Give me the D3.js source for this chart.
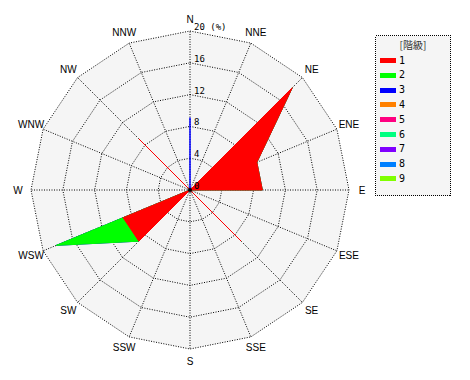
<!DOCTYPE html>
<html>
<head>
<meta charset="utf-8">
<script src="https://cdn.jsdelivr.net/npm/d3@7"></script>
<style>
  body { margin: 0; background: #fff; }
</style>
</head>
<body>
<div id="chart-area"></div>
<script>
// directions (clockwise from north)
const directions = ["N", "NNE", "NE", "ENE", "E", "ESE", "SE", "SSE", "S", "SSW", "SW", "WSW", "W", "WNW", "NW", "NNW"]

// frequency (%) per class, one value per direction
const class1 = [0, 0, 18.2, 9.1, 9.1, 0, 9.1, 0, 0, 0, 9.1, 9.1, 0, 0, 9.1, 0]
const class2 = [0, 0, 0, 0, 0, 0, 0, 0, 0, 0, 0, 9.1, 0, 0, 0, 0]
const class3 = [9.1, 0, 0, 0, 0, 0, 0, 0, 0, 0, 0, 0, 0, 0, 0, 0]
const class4 = [0, 0, 0, 0, 0, 0, 0, 0, 0, 0, 0, 0, 0, 0, 0, 0]
const class5 = [0, 0, 0, 0, 0, 0, 0, 0, 0, 0, 0, 0, 0, 0, 0, 0]
const class6 = [0, 0, 0, 0, 0, 0, 0, 0, 0, 0, 0, 0, 0, 0, 0, 0]
const class7 = [0, 0, 0, 0, 0, 0, 0, 0, 0, 0, 0, 0, 0, 0, 0, 0]
const class8 = [0, 0, 0, 0, 0, 0, 0, 0, 0, 0, 0, 0, 0, 0, 0, 0]
const class9 = [0, 0, 0, 0, 0, 0, 0, 0, 0, 0, 0, 0, 0, 0, 0, 0]

const classLabels = ["1", "2", "3", "4", "5", "6", "7", "8", "9"]
const classColors = ["#ff0000", "#00ff00", "#0000ff", "#ff8000", "#ff0080", "#00ff80", "#8000ff", "#0080ff", "#80ff00"]
const ringTicks = [0, 4, 8, 12, 16, 20]

const series = [class1, class2, class3, class4, class5, class6, class7, class8, class9]

const WIDTH = 470
const HEIGHT = 380
const CX = 190
const CY = 190

const svg = d3.select("#chart-area").append("svg")
  .attr("width", WIDTH)
  .attr("height", HEIGHT)

// radial scale
const r = d3.scaleLinear().domain([0, 20]).range([0, 159])
const angle = d3.scaleLinear().domain([0, directions.length]).range([0, 2 * Math.PI])

const px = (i, v) => CX + r(v) * Math.sin(angle(i))
const py = (i, v) => CY - r(v) * Math.cos(angle(i))

const g = svg.append("g")

// background polygon
const outer = directions.map((d, i) => [px(i, 20), py(i, 20)])
g.append("polygon")
  .attr("points", outer.map(p => p.join(",")).join(" "))
  .attr("fill", "#f5f5f5")

// rings
ringTicks.filter(t => t > 0).forEach(t => {
  g.append("polygon")
    .attr("points", directions.map((d, i) => [px(i, t), py(i, t)].join(",")).join(" "))
    .attr("fill", "none")
    .attr("stroke", "#000")
    .attr("stroke-width", 1)
    .attr("stroke-dasharray", "1,1.5")
})

// spokes
g.selectAll(".spoke")
  .data(directions)
  .enter().append("line")
  .attr("class", "spoke")
  .attr("x1", CX)
  .attr("y1", CY)
  .attr("x2", (d, i) => px(i, 20))
  .attr("y2", (d, i) => py(i, 20))
  .attr("stroke", "#000")
  .attr("stroke-width", 1)
  .attr("stroke-dasharray", "1,1.5")

// stacked values
const cumulative = []
series.forEach((s, k) => {
  cumulative.push(s.map((v, i) => v + (k > 0 ? cumulative[k - 1][i] : 0)))
})

// draw outer classes first so the inner ones stay on top
for (let k = series.length - 1; k >= 0; k--) {
  if (d3.max(series[k]) === 0) continue
  const pts = cumulative[k].map((v, i) => [px(i, v), py(i, v)])
  g.append("polygon")
    .attr("points", pts.map(p => p.join(",")).join(" "))
    .attr("fill", classColors[k])
    .attr("stroke", classColors[k])
    .attr("stroke-width", 1)
}

// center dot
g.append("circle")
  .attr("cx", CX)
  .attr("cy", CY)
  .attr("r", 2)
  .attr("fill", "#000")

// ring labels
g.selectAll(".ring-label")
  .data(ringTicks)
  .enter().append("text")
  .attr("class", "ring-label")
  .attr("x", CX + 4)
  .attr("y", d => CY - r(d) - 1)
  .attr("font-family", "'DejaVu Sans Mono', monospace")
  .attr("font-size", "9px")
  .attr("fill", "#000")
  .text(d => d === 20 ? "20 (%)" : d)

// direction labels
g.selectAll(".dir-label")
  .data(directions)
  .enter().append("text")
  .attr("class", "dir-label")
  .attr("x", (d, i) => CX + 172 * Math.sin(angle(i)))
  .attr("y", (d, i) => CY - 171 * Math.cos(angle(i)))
  .attr("dy", "0.35em")
  .attr("text-anchor", "middle")
  .attr("font-family", "'Liberation Sans', sans-serif")
  .attr("font-size", "10px")
  .attr("fill", "#000")
  .text(d => d)

// legend
const legend = svg.append("g")
  .attr("transform", "translate(375, 35)")

legend.append("rect")
  .attr("x", 0.5)
  .attr("y", 0.5)
  .attr("width", 75)
  .attr("height", 160)
  .attr("fill", "#f5f5f5")
  .attr("stroke", "#000")
  .attr("stroke-width", 1)
  .attr("stroke-dasharray", "1,1")
  .attr("shape-rendering", "crispEdges")

legend.append("text")
  .attr("x", 38)
  .attr("y", 14)
  .attr("text-anchor", "middle")
  .attr("font-family", "'Noto Sans CJK JP', sans-serif")
  .attr("font-size", "10px")
  .attr("fill", "#333")
  .text("[階級]")

const items = legend.selectAll(".item")
  .data(classLabels)
  .enter().append("g")
  .attr("class", "item")
  .attr("transform", (d, i) => `translate(5, ${25 + i * 14.8})`)

items.append("rect")
  .attr("x", 0)
  .attr("y", -2)
  .attr("width", 16)
  .attr("height", 5)
  .attr("fill", (d, i) => classColors[i])
  .attr("shape-rendering", "crispEdges")

items.append("text")
  .attr("x", 19)
  .attr("y", 0)
  .attr("dy", "0.35em")
  .attr("font-family", "'DejaVu Sans Mono', monospace")
  .attr("font-size", "10px")
  .attr("fill", "#000")
  .text(d => d)
</script>
</body>
</html>
